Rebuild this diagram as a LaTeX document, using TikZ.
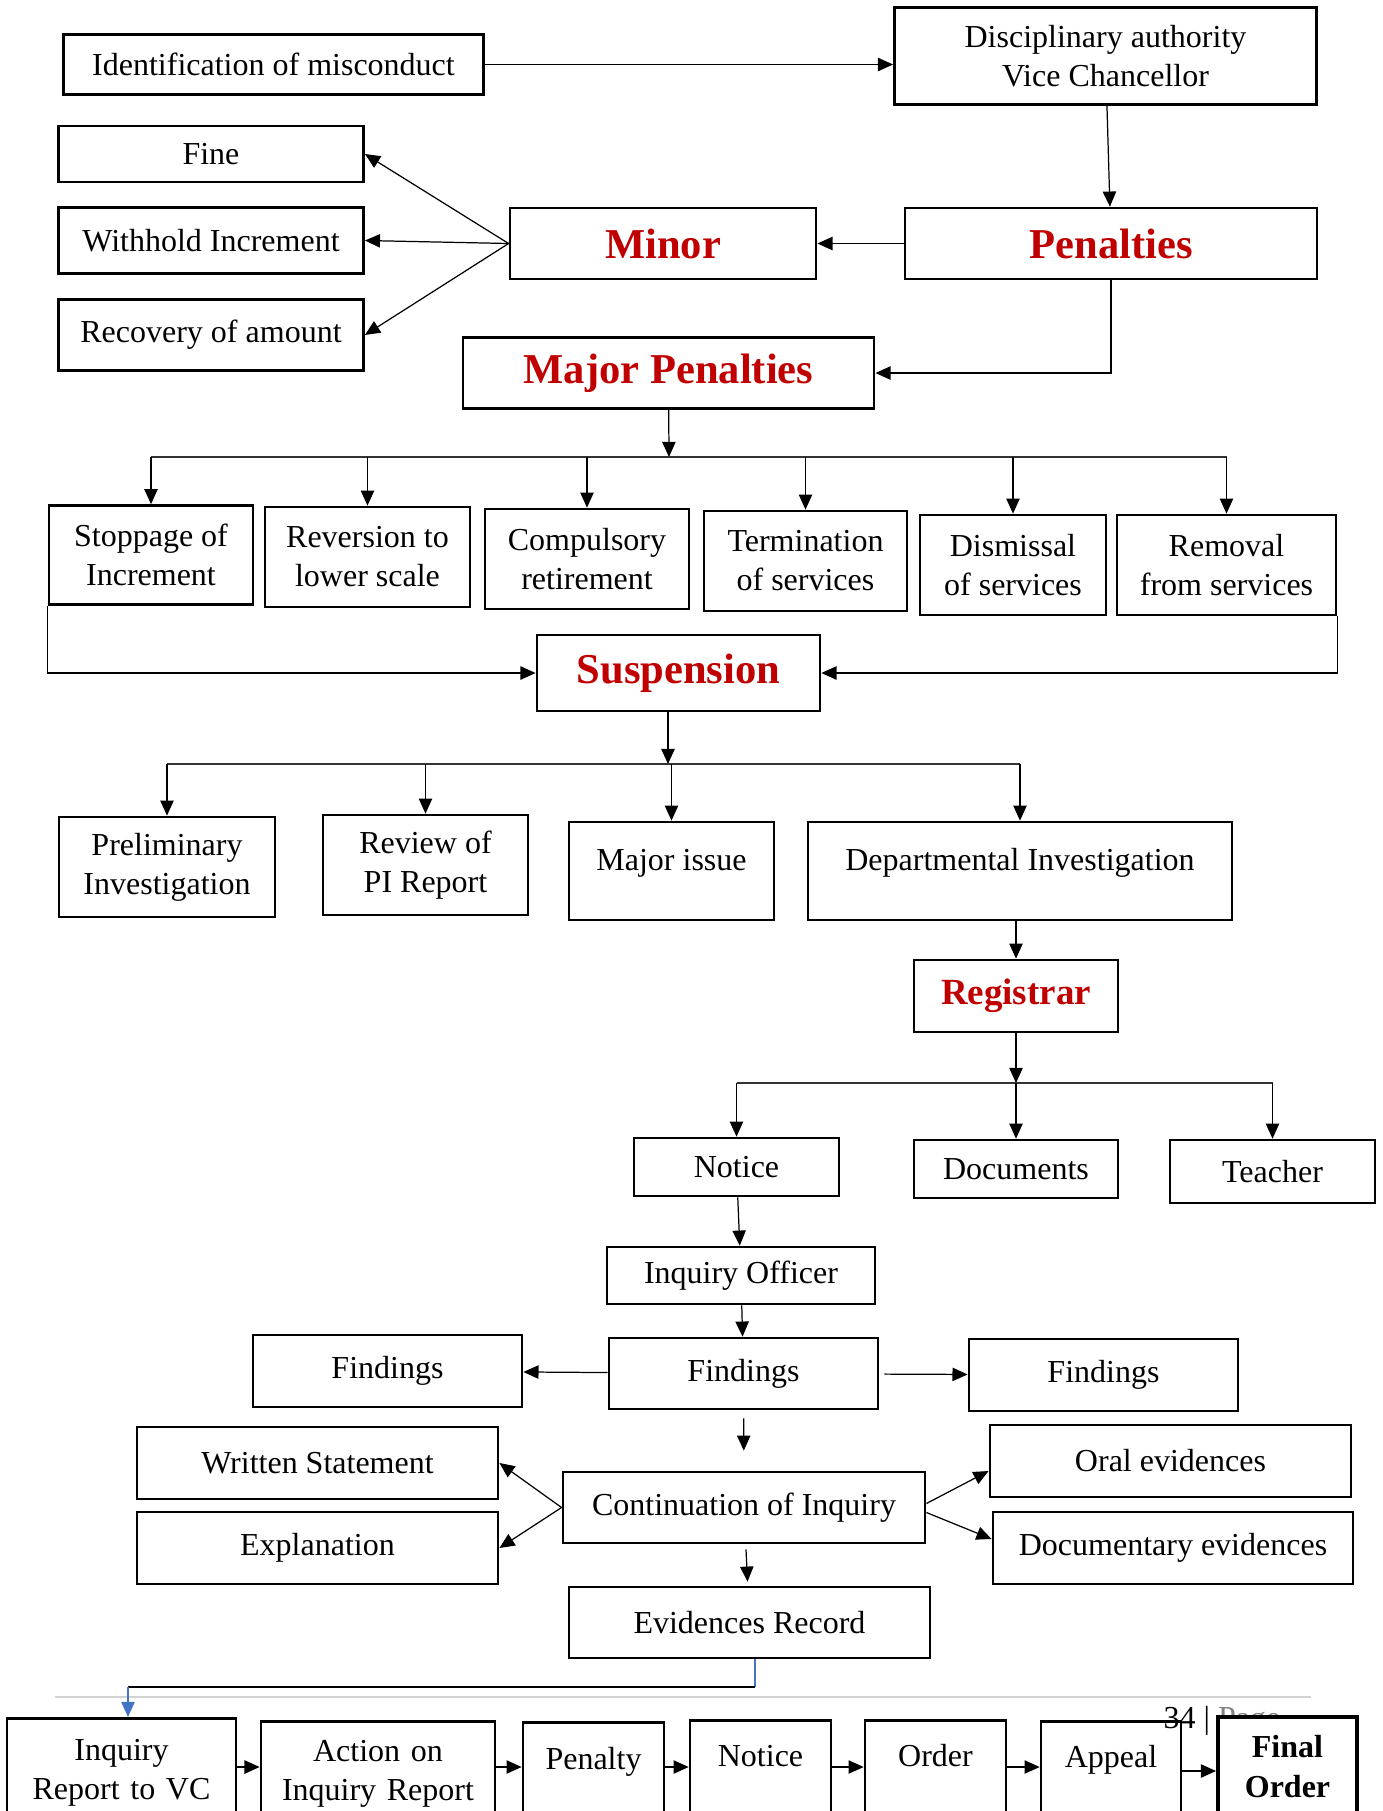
\documentclass[tikz,border=0pt]{standalone}
\usepackage{fontspec}
\setmainfont{Liberation Serif}
\usetikzlibrary{arrows.meta}
\definecolor{headred}{RGB}{192,0,0}
\definecolor{linkblue}{RGB}{68,114,196}
\newcommand\boxfont{\fontsize{9.1pt}{11.1pt}\selectfont}
\newcommand\headfont{\fontsize{12.1pt}{14pt}\selectfont\bfseries}
\begin{document}
\begin{tikzpicture}
            [x = 0.01cm, y = -0.01cm,
             box/.style = {draw, line width = 0.75pt, inner sep = 0pt, align = center, font = \boxfont},
             head/.style = {box, font = \headfont, text = headred},
             lowbox/.style = {box, anchor = north, text depth = 1.5cm},
             arr/.style = {-{Triangle[length = 4.3pt, width = 3.8pt]}, line width = 0.35pt},
             bus/.style = {line width = 0.4pt, black!80},
             blueline/.style = {line width = 0.4pt, linkblue}]
            \useasboundingbox (0,0) rectangle (1383,1811);
            \node[box] (ident) [minimum width = 4.20cm, minimum height = 0.60cm] at (273.5,64.5) {Identification of misconduct};
            \node[box] (disc) [minimum width = 4.22cm, minimum height = 0.97cm] at (1105.5,56) {Disciplinary authority\\Vice Chancellor};
            \node[box] (fine) [minimum width = 3.05cm, minimum height = 0.56cm] at (211,154) {Fine};
            \node[box] (withhold) [minimum width = 3.05cm, minimum height = 0.66cm] at (211,240.5) {Withhold Increment};
            \node[box] (recovery) [minimum width = 3.05cm, minimum height = 0.71cm] at (211,335) {Recovery of amount};
            \node[head] (minor) [minimum width = 3.06cm, minimum height = 0.71cm] at (663,243.5) {Minor};
            \node[head] (pen) [minimum width = 4.12cm, minimum height = 0.71cm] at (1111,243.5) {Penalties};
            \node[head] (major) [minimum width = 4.11cm, minimum height = 0.71cm] at (668.5,373) {Major Penalties};
            \node[box] (stop) [minimum width = 2.04cm, minimum height = 0.99cm] at (151,555) {Stoppage of\\Increment};
            \node[box] (revert) [minimum width = 2.05cm, minimum height = 1.00cm] at (367.5,557) {Reversion to\\lower scale};
            \node[box] (compret) [minimum width = 2.04cm, minimum height = 1.00cm] at (587,559) {Compulsory\\retirement};
            \node[box] (term) [minimum width = 2.03cm, minimum height = 1.00cm] at (805.5,561) {Termination\\of services};
            \node[box] (dismiss) [minimum width = 1.86cm, minimum height = 1.00cm] at (1013,565) {Dismissal\\of services};
            \node[box] (removal) [minimum width = 2.19cm, minimum height = 1.00cm] at (1226.5,565) {Removal\\from services};
            \node[head] (susp) [minimum width = 2.83cm, minimum height = 0.76cm] at (678.5,673) {Suspension};
            \node[box] (prelim) [minimum width = 2.16cm, minimum height = 1.00cm] at (167,867) {Preliminary\\Investigation};
            \node[box] (review) [minimum width = 2.05cm, minimum height = 1.00cm] at (425.5,865) {Review of\\PI Report};
            \node[box] (majiss) [minimum width = 2.05cm, minimum height = 0.98cm, text depth = 0.23cm] at (671.5,871) {Major issue};
            \node[box] (dept) [minimum width = 4.24cm, minimum height = 0.98cm, text depth = 0.23cm] at (1020,871) {Departmental Investigation};
            \node[head] (reg) [minimum width = 2.04cm, minimum height = 0.72cm, font = \fontsize{10.5pt}{12pt}\selectfont\bfseries] at (1016,996) {Registrar};
            \node[box] (notice) [minimum width = 2.05cm, minimum height = 0.58cm] at (736.5,1167) {Notice};
            \node[box] (docs) [minimum width = 2.04cm, minimum height = 0.58cm] at (1016,1169) {Documents};
            \node[box] (teacher) [minimum width = 2.05cm, minimum height = 0.63cm] at (1272.5,1171.5) {Teacher};
            \node[box] (officer) [minimum width = 2.68cm, minimum height = 0.57cm] at (741,1275.5) {Inquiry Officer};
            \node[box] (findl) [minimum width = 2.69cm, minimum height = 0.72cm] at (387.5,1371) {Findings};
            \node[box] (findc) [minimum width = 2.69cm, minimum height = 0.71cm] at (743.5,1373.5) {Findings};
            \node[box] (findr) [minimum width = 2.69cm, minimum height = 0.72cm] at (1103.5,1375) {Findings};
            \node[box] (written) [minimum width = 3.61cm, minimum height = 0.72cm] at (317.5,1463) {Written Statement};
            \node[box] (expl) [minimum width = 3.61cm, minimum height = 0.72cm] at (317.5,1548) {Explanation};
            \node[box] (cont) [minimum width = 3.62cm, minimum height = 0.71cm] at (744,1507.5) {Continuation of Inquiry};
            \node[box] (oral) [minimum width = 3.61cm, minimum height = 0.72cm] at (1170.5,1461) {Oral evidences};
            \node[box] (docev) [minimum width = 3.60cm, minimum height = 0.72cm] at (1173,1548) {Documentary evidences};
            \node[box] (evrec) [minimum width = 3.61cm, minimum height = 0.71cm] at (749.5,1622.5) {Evidences Record};
            \draw[gray!35, line width = 0.7pt] (55,1697) -- (1311,1697);
            \node (pagenum) [anchor = base west, inner sep = 0pt, font = \boxfont] at (1163,1728) {34 | \textcolor{gray}{Page}};
            \node[lowbox] (irvc) [text width = 2.29cm, text height = 0.42cm] at (121.5,1717) {Inquiry\\Report to VC};
            \node[lowbox] (action) [text width = 2.34cm, text height = 0.40cm] at (378,1720) {Action on\\Inquiry Report};
            \node[lowbox] (penalty) [text width = 1.41cm, text height = 0.47cm] at (593.5,1721) {Penalty};
            \node[lowbox] (notice2) [text width = 1.41cm, text height = 0.46cm] at (760.5,1719) {Notice};
            \node[lowbox] (order) [text width = 1.41cm, text height = 0.46cm] at (935.5,1719) {Order};
            \node[lowbox] (appeal) [text width = 1.40cm, text height = 0.46cm] at (1111,1720) {Appeal};
            \node[lowbox] (final) [text width = 1.39cm, text height = 0.41cm, line width = 1.1pt, fill = white, font = \boxfont\bfseries] at (1287.5,1715) {Final\\Order};
            \coordinate (bus1) at (669,457);
            \coordinate (bus2) at (668,764);
            \coordinate (bus3) at (1016,1083);
            \coordinate (turnr) at (755,1687);
            \coordinate (turnl) at (128,1687);
            \coordinate (row) at (0,1767);
            \coordinate (rowb) at (0,1771);
            \draw[arr] (ident) -- (ident -| disc.west);
            \draw[arr] (disc) -- (pen);
            \draw[arr] (pen) -- (minor);
            \draw[arr] (minor.west) -- (fine.east);
            \draw[arr] (minor.west) -- (withhold.east);
            \draw[arr] (minor.west) -- (recovery.east);
            \draw[arr] (pen.south) |- (major.east);
            \draw[arr] (major) -- (bus1);
            \draw[bus] (stop.north |- bus1) -- (removal.north |- bus1);
            \draw[arr] (stop.north |- bus1) -- (stop);
            \draw[arr] (revert.north |- bus1) -- (revert);
            \draw[arr] (compret.north |- bus1) -- (compret);
            \draw[arr] (term.north |- bus1) -- (term);
            \draw[arr] (dismiss.north |- bus1) -- (dismiss);
            \draw[arr] (removal.north |- bus1) -- (removal);
            \draw[arr] (stop.south west) |- (susp.west);
            \draw[arr] (removal.south east) |- (susp.east);
            \draw[arr] (susp.south -| bus2) -- (bus2);
            \draw[bus] (prelim.north |- bus2) -- (dept.north |- bus2);
            \draw[arr] (prelim.north |- bus2) -- (prelim);
            \draw[arr] (review.north |- bus2) -- (review);
            \draw[arr] (majiss.north |- bus2) -- (majiss);
            \draw[arr] (dept.north |- bus2) -- (dept);
            \draw[arr] (dept.south -| reg.north) -- (reg);
            \draw[arr] (reg) -- (bus3);
            \draw[bus] (notice.north |- bus3) -- (teacher.north |- bus3);
            \draw[arr] (notice.north |- bus3) -- (notice);
            \draw[arr] (docs.north |- bus3) -- (docs);
            \draw[arr] (teacher.north |- bus3) -- (teacher);
            \draw[arr] (notice) -- (officer);
            \draw[arr] (officer) -- (findc);
            \draw[arr] (findc) -- (findl);
            \draw[arr, shorten <= 0.05cm] (findc) -- (findr);
            \draw[arr, shorten <= 0.08cm, shorten >= 0.2cm] (findc) -- (cont);
            \draw[arr] (cont.west) -- (written.east);
            \draw[arr] (cont.west) -- (expl.east);
            \draw[arr] ([yshift = 0.04cm]cont.east) -- ([yshift = -0.1cm]oral.west);
            \draw[arr] ([yshift = -0.05cm]cont.east) -- ([yshift = 0.09cm]docev.west);
            \draw[arr, shorten <= 0.05cm, shorten >= 0.04cm] (cont) -- (evrec);
            \draw[blueline] (evrec.south -| turnr) -- (turnr);
            \draw[line width = 0.4pt] (turnr) -- (turnl);
            \draw[blueline, arr] (turnl) -- (turnl |- irvc.north);
            \draw[arr] (irvc.east |- row) -- (action.west |- row);
            \draw[arr] (action.east |- row) -- (penalty.west |- row);
            \draw[arr] (penalty.east |- row) -- (notice2.west |- row);
            \draw[arr] (notice2.east |- row) -- (order.west |- row);
            \draw[arr] (order.east |- row) -- (appeal.west |- row);
            \draw[arr] (appeal.east |- rowb) -- (final.west |- rowb);
        \end{tikzpicture}
\end{document}
